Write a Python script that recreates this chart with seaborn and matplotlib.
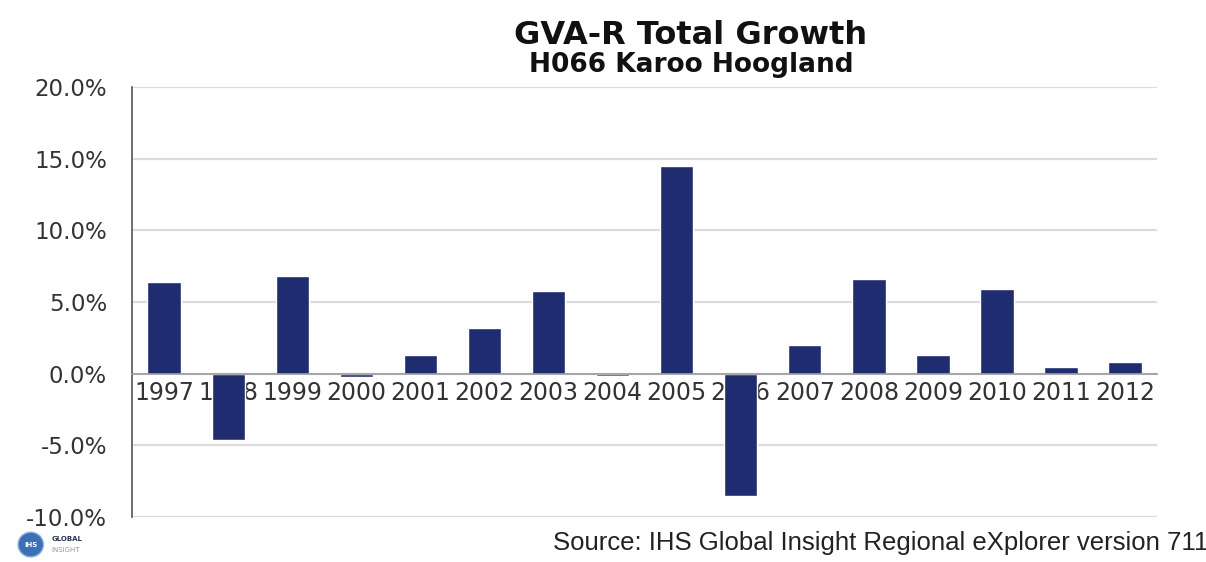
import numpy as np
import pandas as pd
import matplotlib
matplotlib.use("Agg")
import matplotlib.pyplot as plt
from matplotlib.patches import Ellipse
from matplotlib.ticker import FuncFormatter, FixedLocator
import seaborn as sns

# GVA-R total growth by year, in percent
years = ["1997", "1998", "1999", "2000", "2001", "2002", "2003", "2004",
         "2005", "2006", "2007", "2008", "2009", "2010", "2011", "2012"]
growth = [6.4, -4.6, 6.8, -0.2, 1.3, 3.2, 5.8, -0.15,
          14.5, -8.5, 2.0, 6.6, 1.3, 5.9, 0.5, 0.8]
y_ticks = [-10, -5, 0, 5, 10, 15, 20]

title = "GVA-R Total Growth"
subtitle = "H066 Karoo Hoogland"
source = "Source: IHS Global Insight Regional eXplorer version 711"

sns.set_style("white")
plt.rcParams["font.family"] = ["DejaVu Sans"]

df = pd.DataFrame({"year": years, "growth": growth})

fig = plt.figure(figsize=(12.06, 5.62), dpi=100)
ax = fig.add_axes([0.1095, 0.080, 0.850, 0.765])

bar_color = "#1F2C70"
sns.barplot(data=df, x="year", y="growth", color=bar_color, width=0.52,
            saturation=1, ax=ax, zorder=3)

ax.set_ylim(-10, 20)
ax.set_xlim(-0.5, len(years) - 0.5)
ax.set_xlabel("")
ax.set_ylabel("")

# horizontal gridlines
ax.yaxis.set_major_locator(FixedLocator(y_ticks))
ax.yaxis.set_major_formatter(FuncFormatter(lambda v, _: f"{v:.1f}%"))
ax.grid(axis="y", color="#dcdcdc", linewidth=1.6, zorder=0)
ax.grid(axis="x", visible=False)
ax.set_axisbelow(True)

for side in ("top", "right"):
    ax.spines[side].set_visible(False)
ax.spines["left"].set_color("#555555")
ax.spines["left"].set_linewidth(1.2)
ax.spines["bottom"].set_position(("data", 0))
ax.spines["bottom"].set_color("#9a9a9a")
ax.spines["bottom"].set_linewidth(1.2)
ax.spines["bottom"].set_zorder(4)

ax.tick_params(axis="y", direction="out", length=8, width=1.0,
               color="#777777", labelsize=16.5, labelcolor="#333333", pad=10)
# category labels centred, tick marks on category boundaries
ax.tick_params(axis="x", which="major", length=0, labelsize=17,
               labelcolor="#333333", pad=5)
ax.set_xticks(np.arange(-0.5, len(years), 1.0), minor=True)
ax.tick_params(axis="x", which="minor", direction="out", length=5,
               width=1.0, color="#9a9a9a")

fig.text(0.573, 0.936, title, ha="center", va="center",
         fontsize=23, fontweight="bold", color="#111111")
fig.text(0.573, 0.884, subtitle, ha="center", va="center",
         fontsize=19, fontweight="bold", color="#111111")

fig.text(0.4585, 0.012, source, ha="left", va="bottom",
         fontsize=18.5, color="#222222", family=["Liberation Sans"])

# small brand mark in the lower left corner
fig.patches.append(Ellipse((0.0255, 0.031), 0.021, 0.044,
                           transform=fig.transFigure,
                           facecolor="#3b6fb6", edgecolor="#8fb2e0",
                           linewidth=1.0))
fig.text(0.0255, 0.031, "IHS", ha="center", va="center", fontsize=5,
         color="white", fontweight="bold")
fig.text(0.043, 0.041, "GLOBAL", ha="left", va="center", fontsize=5,
         color="#2a3550", fontweight="bold")
fig.text(0.043, 0.022, "INSIGHT", ha="left", va="center", fontsize=5,
         color="#8a9ab5")

fig.savefig("out.png", dpi=100)
